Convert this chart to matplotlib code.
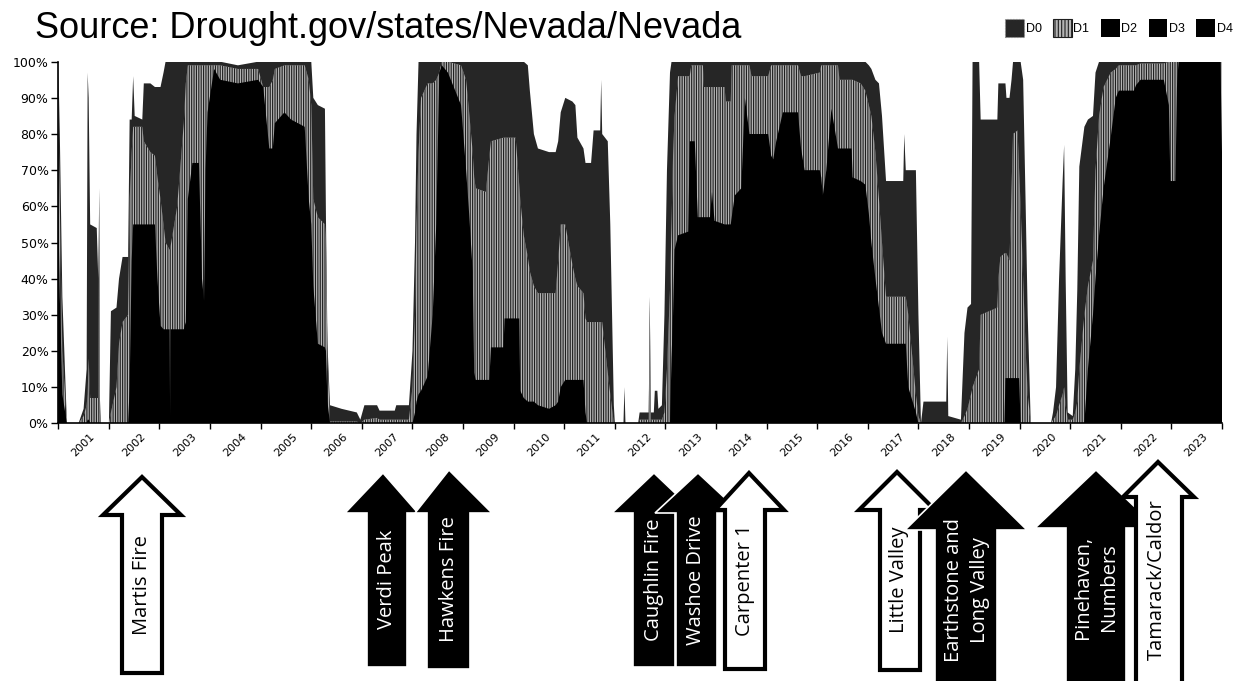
import matplotlib
matplotlib.use("Agg")
import matplotlib.pyplot as plt
import numpy as np
from matplotlib.patches import Patch, Polygon
from matplotlib.transforms import ScaledTranslation

# readings, decimal years, cumulative % of area
dates = [
    2000.00, 2000.03, 2000.08, 2000.17, 2000.40, 2000.50, 2000.56, 2000.58, 2000.60, 2000.63,
    2000.76, 2000.79, 2000.81, 2000.82, 2000.84, 2001.00,
    2001.04, 2001.15, 2001.20, 2001.27, 2001.38, 2001.41, 2001.45, 2001.48, 2001.51, 2001.66,
    2001.69, 2001.82, 2001.91, 2001.96, 2002.02, 2002.08, 2002.12, 2002.20, 2002.21, 2002.22,
    2002.35, 2002.48, 2002.52, 2002.56, 2002.65, 2002.78, 2002.84, 2002.88, 2002.91, 2002.95,
    2003.08, 2003.20, 2003.55, 2003.95, 2004.05, 2004.17, 2004.24, 2004.28, 2004.47, 2004.60,
    2004.87, 2004.95, 2005.00, 2005.04, 2005.13, 2005.27, 2005.29, 2005.32, 2005.37,
    2005.60, 2005.90, 2005.97, 2006.05, 2006.30, 2006.35, 2006.65, 2006.68, 2006.93,
    2007.00, 2007.05, 2007.08, 2007.12, 2007.17, 2007.30, 2007.40, 2007.47, 2007.53, 2007.58,
    2007.70, 2007.96, 2008.06, 2008.12, 2008.19, 2008.22, 2008.25, 2008.45, 2008.52, 2008.55,
    2008.80, 2008.82, 2009.04, 2009.11, 2009.13, 2009.20, 2009.28, 2009.32, 2009.40, 2009.48,
    2009.70, 2009.83, 2009.88, 2009.93, 2010.02, 2010.16, 2010.22, 2010.26, 2010.38, 2010.42,
    2010.45, 2010.53, 2010.58, 2010.71, 2010.73, 2010.75, 2010.86, 2010.91, 2010.98, 2011.00,
    2011.17, 2011.19, 2011.21, 2011.46, 2011.49, 2011.67, 2011.69, 2011.71, 2011.77, 2011.79,
    2011.84, 2011.86, 2011.93, 2011.98, 2012.03, 2012.09, 2012.12, 2012.15, 2012.18, 2012.25,
    2012.45, 2012.48, 2012.51, 2012.58, 2012.64, 2012.74, 2012.76, 2012.88, 2012.92, 2012.97,
    2013.17, 2013.19, 2013.29, 2013.31, 2013.37, 2013.50, 2013.57, 2013.66, 2013.70, 2014.03,
    2014.09, 2014.13, 2014.19, 2014.32, 2014.62, 2014.68, 2014.75, 2015.05, 2015.08, 2015.11,
    2015.18, 2015.28, 2015.41, 2015.44, 2015.68, 2015.70, 2015.86, 2015.95, 2016.02, 2016.07,
    2016.15, 2016.22, 2016.28, 2016.36, 2016.70, 2016.72, 2016.75, 2016.80, 2016.95, 2017.00,
    2017.05,
    2017.10, 2017.55, 2017.57, 2017.59, 2017.84, 2017.91, 2017.97, 2018.04, 2018.07, 2018.20,
    2018.23, 2018.56, 2018.58, 2018.62, 2018.70, 2018.72, 2018.74, 2018.80, 2018.84, 2018.87,
    2018.96, 2018.99, 2019.02, 2019.07, 2019.12, 2019.16, 2019.22,
    2019.62, 2019.66, 2019.72, 2019.78, 2019.85, 2019.88, 2019.91, 2019.95, 2020.05, 2020.10,
    2020.14, 2020.18, 2020.28, 2020.35, 2020.45, 2020.50, 2020.57, 2020.66, 2020.80, 2020.90,
    2020.96, 2021.26, 2021.30, 2021.39, 2021.85, 2021.95, 2021.98, 2022.08, 2022.11, 2022.14,
    2022.97, 2023.00,
]

d0_d4 = [
    100, 80, 35, 0, 0, 4, 15, 97, 90, 55,
    54, 40, 65, 8, 0, 0,
    31, 32, 40, 46, 46, 84, 84, 96, 85, 84,
    94, 94, 93, 93, 93, 97, 100, 100, 100, 100,
    100, 100, 100, 100, 100, 100, 100, 100, 100, 100,
    100, 100, 99, 100, 100, 100, 100, 100, 100, 100,
    100, 100, 100, 90, 88, 87, 57, 22, 5,
    4, 3, 1, 5, 5, 3.5, 3.5, 5, 5,
    20, 50, 80, 100, 100, 100, 100, 100, 100, 100,
    100, 100, 100, 100, 100, 100, 100, 100, 100, 100,
    100, 100, 100, 100, 100, 100, 99, 92, 80, 76,
    75, 75, 78, 86, 90, 89, 88, 79, 76, 72,
    72, 72, 81, 81, 95, 80, 78, 55, 5, 0,
    0, 10, 0, 0, 3, 3, 35, 3, 3, 9,
    9, 4, 5, 30, 70, 97, 100, 100, 100, 100,
    100, 100, 100, 100, 100, 100, 100, 100, 100, 100,
    100, 100, 100, 100, 100, 100, 100, 100, 100, 100,
    100, 100, 100, 100, 100, 100, 100, 100, 100, 100,
    100, 100, 100, 100, 100, 100, 100, 100, 99, 98,
    95, 94, 85, 67, 67, 80, 70, 70, 70, 30,
    0,
    6, 6, 24, 2, 1, 25, 32, 33, 100, 100,
    84, 84, 94, 94, 94, 94, 90, 90, 95, 100,
    100, 100, 100, 95, 60, 30, 0,
    0, 3, 10, 40, 67, 77, 40, 3, 2, 15,
    37, 71, 82, 84, 85, 97, 100, 100, 100, 100,
    100, 100, 100, 100, 100, 100, 100, 100, 100, 100,
    100, 100,
]

d1_d4 = [
    88, 60, 20, 0, 0, 2, 5, 8, 18, 7,
    7, 7, 65, 3, 0, 0,
    3, 10, 22, 28, 30, 62, 75, 82, 82, 82,
    78, 75, 74, 68, 62, 55, 50, 48, 48, 49,
    60, 83, 94, 99, 99, 99, 99, 99, 99, 99,
    99, 99, 98, 98, 93, 93, 95, 98, 99, 99,
    99, 95, 88, 62, 57, 55, 50, 18, 0.5,
    0.5, 0.5, 0, 1, 1.5, 1, 1, 1, 1,
    10, 30, 55, 75, 90, 94, 94, 95, 97, 100,
    100, 99, 95, 86, 75, 68, 65, 64, 74, 78,
    79, 79, 79, 66, 62, 52, 46, 42, 38, 36,
    36, 36, 45, 55, 55, 44, 40, 38, 36, 29,
    28, 28, 28, 28, 28, 28, 14, 8, 0, 0,
    0, 0, 0, 0, 1, 1, 35, 1, 1, 1,
    1, 1, 1, 3, 15, 37, 55, 74, 85, 96,
    96, 96, 99, 99, 99, 99, 93, 93, 93, 93,
    93, 89, 89, 99, 99, 99, 99, 99, 96, 96,
    99, 99, 99, 99, 99, 96, 96, 97, 99, 99,
    99, 99, 99, 95, 95, 95, 94, 92, 88, 85,
    75, 62, 50, 35, 35, 35, 35, 30, 8, 2,
    0,
    0, 0, 0, 0, 0, 2, 4, 8, 10, 15,
    30, 32, 40, 46, 47, 47, 47, 45, 65, 80,
    81, 70, 60, 40, 20, 8, 0,
    0, 1, 2, 5, 8, 10, 5, 1, 1, 3,
    6, 15, 30, 38, 45, 70, 85, 93, 97, 98,
    99, 99, 99, 99.5, 99.5, 100, 100, 100, 100, 100,
    100, 100,
]

d2_d4 = [
    60, 35, 8, 0, 0, 0, 0, 1, 1, 0,
    0, 0, 0, 0, 0, 0,
    0, 0, 0, 0, 0, 10, 45, 55, 55, 55,
    55, 55, 55, 40, 27, 26, 26, 26, 2, 26,
    26, 26, 28, 62, 72, 72, 40, 34, 70, 86,
    98, 95, 94, 95, 93, 76, 76, 83, 86, 84,
    82, 62, 55, 38, 22, 21, 20, 6, 0,
    0, 0, 0, 0, 0, 0, 0, 0, 0,
    0, 3, 6, 8, 9, 13, 30, 55, 97, 99,
    97, 88, 70, 58, 42, 14, 12, 12, 12, 21,
    21, 29, 29, 29, 9, 7, 6, 6, 6, 5,
    4, 5, 6, 10, 12, 12, 12, 12, 12, 3,
    0, 0, 0, 0, 0, 0, 0, 0, 0, 0,
    0, 0, 0, 0, 0, 0, 0, 0, 0, 0,
    0, 0, 0, 0, 0, 0, 18, 30, 48, 52,
    53, 78, 78, 78, 57, 57, 57, 57, 64, 56,
    55, 55, 55, 57, 63, 65, 90, 80, 80, 80,
    74, 73, 78, 86, 86, 76, 70, 70, 68, 63,
    70, 87, 76, 76, 76, 68, 67, 66, 58, 50,
    40, 32, 25, 22, 22, 22, 22, 10, 3, 0,
    0,
    0, 0, 0, 0, 0, 0, 0, 0, 0, 0,
    0, 0, 0, 0, 0, 12.5, 12.5, 12.5, 12.5, 12.5,
    12.5, 12.5, 0, 0, 0, 0, 0,
    0, 0, 0, 0, 0, 0, 0, 0, 0, 0,
    0, 0, 0, 15, 30, 40, 52, 65, 79, 90,
    92, 92, 93.5, 95, 95, 88, 67, 67, 93, 100,
    100, 75,
]

year_ticks = list(range(2000, 2024))
year_labels = [""] + [str(y) for y in range(2001, 2024)]
pct_ticks = list(range(0, 101, 10))
pct_labels = [f"{p}%" for p in pct_ticks]
categories = ["D0", "D1", "D2", "D3", "D4"]

# fire arrows in figure pixels:
# label, tip x, tip y, head left, head right, head base y, shaft left, shaft right, bottom, filled, text x, text y
fires = [
    ("Martis Fire", 142, 477, 103, 181, 515, 122, 162, 673, False, 142, 585),
    ("Verdi Peak", 383, 473, 345, 418, 513, 367, 407, 667, True, 387, 579),
    ("Hawkens Fire", 449, 470, 415, 492, 513, 427, 470, 669, True, 449, 579),
    ("Caughlin Fire", 654, 473, 612, 696, 513, 633, 675, 667, True, 654, 580),
    ("Washoe Drive", 698, 473, 655, 741, 513, 676, 717, 667, True, 696, 580),
    ("Carpenter 1", 749, 473, 715, 784, 510, 725, 765, 669, False, 745, 580),
    ("Little Valley", 897, 472, 859, 935, 510, 880, 920, 670, False, 899, 580),
    ("Earthstone and\nLong Valley", 966, 470, 905, 1027, 530, 935, 997, 690, True, 967, 590),
    ("Pinehaven,\nNumbers", 1096, 470, 1035, 1157, 528, 1066, 1126, 690, True, 1096, 587),
    ("Tamarack/Caldor", 1158, 462, 1123, 1194, 497, 1136, 1182, 690, False, 1157, 580),
]

assert len(dates) == len(d0_d4) == len(d1_d4) == len(d2_d4)

W, H = 1249, 681
plt.rcParams["hatch.linewidth"] = 0.8
fig = plt.figure(figsize=(W / 100, H / 100), dpi=100)
ax = fig.add_axes([58.3 / W, 1 - 423.3 / H, (1222 - 58.3) / W, (423.3 - 61.7) / H])

D0_COL = "#262626"
D1_FACE = "#b4b4b4"
D1_HATCH = "#1e1e1e"

t = np.array(dates)
ax.fill_between(t, 0, d0_d4, facecolor=D0_COL, linewidth=0, zorder=1)
ax.fill_between(t, 0, d1_d4, facecolor=D1_FACE, edgecolor=D1_HATCH, hatch="|||||||",
                linewidth=0, zorder=2)
ax.fill_between(t, 0, d2_d4, facecolor="black", linewidth=0, zorder=3)

ax.set_xlim(2000, 2023)
ax.set_ylim(0, 100)
ax.set_xticks(year_ticks)
ax.set_xticklabels(year_labels, rotation=45, ha="right", va="top", fontsize=8)
ax.set_yticks(pct_ticks)
ax.set_yticklabels(pct_labels, fontsize=9)
for s in ["top", "right"]:
    ax.spines[s].set_visible(False)
for s in ["left", "bottom"]:
    ax.spines[s].set_linewidth(1.2)
ax.tick_params(axis="x", length=4, width=1, pad=2)
ax.tick_params(axis="y", length=5, width=1, pad=2)
shift = ScaledTranslation(-12 / 100, 0, fig.dpi_scale_trans)
for lab in ax.get_xticklabels():
    lab.set_transform(lab.get_transform() + shift)

fig.text(35 / W, 1 - 38 / H, "Source: Drought.gov/states/Nevada/Nevada",
         fontsize=26, family="Liberation Sans", ha="left", va="baseline")

handles = [
    Patch(facecolor=D0_COL, edgecolor="#888888", linestyle=":", linewidth=0.8),
    Patch(facecolor=D1_FACE, edgecolor=D1_HATCH, hatch="|||||", linewidth=0.8),
    Patch(facecolor="black"),
    Patch(facecolor="black"),
    Patch(facecolor="black"),
]
fig.legend(handles, categories, loc="center right", bbox_to_anchor=(1233 / W, 1 - 28 / H),
           ncol=5, frameon=False, handlelength=1.5, handleheight=1.9, handletextpad=0.15,
           columnspacing=0.9, borderaxespad=0, borderpad=0,
           prop={"family": "Liberation Sans", "size": 9})


def px(x, y):
    return (x / W, 1 - y / H)


for i, (label, tx, ty, hl, hr, by, sl, sr, bot, filled, lx, ly) in enumerate(fires):
    pts = [px(tx, ty), px(hr, by), px(sr, by), px(sr, bot), px(sl, bot), px(sl, by), px(hl, by)]
    arrow = Polygon(pts, closed=True, transform=fig.transFigure,
                    facecolor="black" if filled else "white",
                    edgecolor="white" if filled else "black",
                    linewidth=1.2 if filled else 3, joinstyle="miter", zorder=10 + 2 * i)
    fig.add_artist(arrow)
    fig.text(*px(lx, ly), label, rotation=90, ha="center", va="center",
             multialignment="center", linespacing=1.35,
             color="white" if filled else "black", fontsize=14.5, family="Open Sans",
             zorder=11 + 2 * i)

fig.savefig("out.png", dpi=100)
